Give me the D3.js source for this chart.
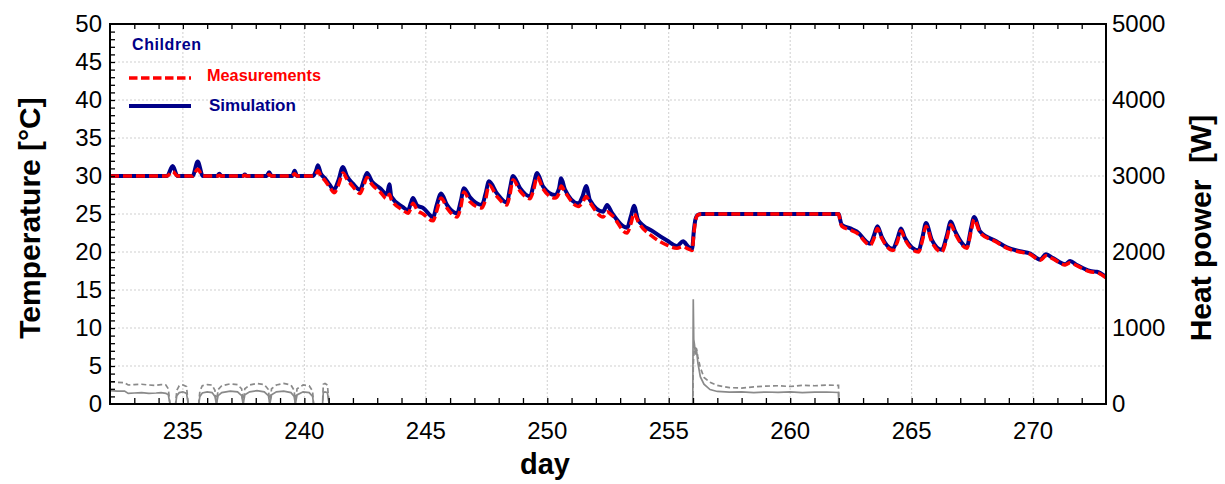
<!DOCTYPE html>
<html>
<head>
<meta charset="utf-8">
<script src="https://cdn.jsdelivr.net/npm/d3@7"></script>
<style>
  body { margin: 0; background: #fff; }
  svg { display: block; }
  text { font-family: "Liberation Sans", Arial, sans-serif; }
</style>
</head>
<body>
<svg id="chart" width="1225" height="484"></svg>
<script>
// Room temperature, "Children" zone: day of year vs. °C
const tempDays = [
  232.00, 234.35, 234.58, 234.78, 235.40, 235.61, 235.82, 236.42, 236.50, 236.58,
  237.47, 237.55, 237.63, 238.45, 238.55, 238.65, 239.50, 239.60, 239.70,
  240.35, 240.47, 240.56, 240.68, 240.85, 241.05, 241.22, 241.40, 241.59, 241.75,
  242.00, 242.29, 242.45, 242.58, 242.78, 243.12, 243.40, 243.50, 243.58, 244.06,
  244.27, 244.38, 244.47, 244.65, 244.89, 245.30, 245.45, 245.63, 245.87, 246.29,
  246.44, 246.57, 246.82, 247.31, 247.46, 247.60, 247.93, 248.34, 248.46, 248.59,
  248.88, 249.29, 249.44, 249.58, 249.83, 250.32, 250.48, 250.57, 250.73, 251.27,
  251.45, 251.60, 251.76, 252.30, 252.46, 252.67, 253.28, 253.45, 253.57, 253.74,
  254.35, 254.93, 255.34, 255.59, 255.80, 255.96, 256.04, 256.10, 256.20, 256.35,
  262.00, 262.06, 262.12, 262.47, 262.74, 263.29, 263.45, 263.59, 263.77, 264.22,
  264.42, 264.56, 264.73, 265.28, 265.45, 265.59, 265.83, 266.24, 266.45, 266.61,
  266.79, 267.27, 267.45, 267.57, 267.82, 268.50, 268.92, 269.46, 269.88, 270.29,
  270.53, 270.82, 271.32, 271.52, 271.80, 272.35, 272.62, 272.96, 273.00
];
const simTemp = [
  30.0, 30.0, 31.3, 30.0, 30.0, 31.9, 30.0, 30.0, 30.3, 30.0,
  30.0, 30.2, 30.0, 30.0, 30.5, 30.0, 30.0, 30.7, 30.0,
  30.0, 30.6, 31.4, 30.3, 29.7, 28.8, 28.2, 29.4, 31.2, 30.0,
  29.0, 28.2, 29.4, 30.4, 29.3, 28.4, 27.6, 28.9, 27.3, 25.9,
  25.5, 26.4, 27.1, 26.1, 25.8, 24.6, 26.2, 27.7, 26.2, 25.1,
  26.7, 28.4, 27.2, 26.2, 27.7, 29.3, 27.7, 26.5, 28.3, 30.0,
  28.4, 27.3, 28.9, 30.4, 28.6, 27.5, 28.3, 29.7, 28.2, 26.4,
  27.3, 28.7, 26.8, 25.3, 26.2, 25.1, 23.2, 24.8, 26.1, 24.2,
  22.7, 21.5, 20.8, 21.4, 20.7, 20.4, 23.0, 24.3, 24.9, 25.0,
  25.0, 24.2, 23.6, 23.1, 22.7, 21.1, 22.2, 23.4, 22.0, 20.4,
  21.8, 23.1, 21.8, 20.2, 22.0, 23.8, 21.6, 20.3, 22.2, 24.0,
  22.7, 20.7, 23.2, 24.6, 22.7, 21.4, 20.6, 20.1, 19.8, 19.0,
  19.7, 19.2, 18.4, 18.8, 18.3, 17.5, 17.4, 16.8, 16.7
];
const measTemp = [
  30.0, 30.0, 30.6, 30.0, 30.0, 30.9, 30.0, 30.0, 30.1, 30.0,
  30.0, 30.1, 30.0, 30.0, 30.2, 30.0, 30.0, 30.3, 30.0,
  30.0, 30.2, 30.7, 30.0, 29.4, 28.5, 27.8, 28.8, 30.4, 29.6,
  28.6, 27.7, 28.8, 29.8, 28.9, 27.9, 27.0, 27.6, 26.9, 25.5,
  25.1, 25.7, 26.4, 25.5, 25.0, 24.1, 25.4, 27.1, 25.8, 24.6,
  25.9, 27.9, 26.6, 25.8, 26.9, 28.8, 27.3, 26.2, 27.5, 29.5,
  28.0, 27.0, 28.2, 29.9, 28.3, 27.1, 27.7, 28.7, 27.9, 26.0,
  26.5, 27.3, 26.5, 24.6, 25.3, 24.8, 22.5, 23.8, 25.1, 24.0,
  22.0, 20.9, 20.5, 20.7, 20.4, 20.2, 22.6, 24.1, 24.9, 25.0,
  25.0, 24.0, 23.4, 22.9, 22.5, 20.9, 21.8, 23.1, 21.8, 20.2,
  21.4, 22.8, 21.6, 20.0, 21.6, 23.4, 21.3, 20.0, 21.8, 23.6,
  22.4, 20.5, 22.8, 24.3, 22.5, 21.3, 20.5, 20.0, 19.7, 18.9,
  19.5, 19.1, 18.3, 18.6, 18.2, 17.4, 17.3, 16.7, 16.6
];

// Heating power in W (null = no heating data)
const powerDays = [
  232.00, 232.30, 232.60, 232.75, 233.00, 233.30, 233.60, 233.90, 234.10, 234.30,
  234.40, 234.47, 234.70, 234.75, 234.85, 235.00, 235.15, 235.22, 235.65, 235.70,
  235.80, 236.00, 236.20, 236.32, 236.38, 236.45, 236.60, 236.95, 237.25, 237.42,
  237.48, 237.55, 237.75, 238.05, 238.35, 238.52, 238.58, 238.65, 238.85, 239.15,
  239.45, 239.58, 239.63, 239.70, 239.95, 240.20, 240.34, 240.38, 240.75, 240.78,
  240.85, 240.95, 241.02, 248.00,
  255.99, 256.01, 256.03, 256.06, 256.10, 256.14, 256.20, 256.30, 256.45, 256.70,
  257.00, 257.50, 258.00, 258.50, 259.00, 259.50, 260.00, 260.50, 261.00, 261.50,
  261.99, 262.00
];
const powerSim = [
  175, 170, 170, 140, 145, 150, 140, 145, 150, 140,
  120, 0, 0, 110, 150, 160, 140, 0, 0, 100,
  145, 160, 150, 100, 0, 110, 150, 170, 160, 110,
  0, 120, 160, 175, 160, 110, 0, 120, 160, 170,
  150, 100, 0, 120, 160, 150, 100, 0, 0, 150,
  160, 150, 0, null,
  0, 1378, 850, 780, 650, 720, 540, 360, 260, 190,
  165, 155, 160, 150, 158, 152, 160, 150, 155, 158,
  152, 0
];
const powerMeas = [
  290, 285, 280, 250, 255, 260, 250, 245, 255, 250,
  200, 0, 0, 180, 240, 250, 230, 0, 0, 170,
  240, 255, 250, 180, 0, 190, 240, 265, 255, 200,
  0, 200, 250, 270, 255, 190, 0, 200, 250, 270,
  250, 180, 0, 200, 250, 240, 170, 0, 0, 260,
  270, 250, 0, null,
  0, 500, 640, 740, 735, 730, 620, 480, 350, 285,
  245, 215, 210, 225, 235, 240, 230, 245, 240, 250,
  245, 0
];

const dayTicks = [235, 240, 245, 250, 255, 260, 265, 270];
const tempTicks = [0, 5, 10, 15, 20, 25, 30, 35, 40, 45, 50];
const powerTicks = [0, 1000, 2000, 3000, 4000, 5000];

const legendTitle = "Children";
const legendItems = ["Measurements", "Simulation"];

const svg = d3.select("#chart");
const m = { left: 110, top: 24, right: 119, bottom: 80 };
const W = 1225 - m.left - m.right;
const H = 484 - m.top - m.bottom;

const x = d3.scaleLinear().domain([232, 273]).range([0, W]);
const yT = d3.scaleLinear().domain([0, 50]).range([H, 0]);
const yP = d3.scaleLinear().domain([0, 5000]).range([H, 0]);

const g = svg.append("g").attr("transform", `translate(${m.left},${m.top})`);

// dotted grid
const grid = g.append("g").attr("stroke", "#cfcfcf").attr("stroke-width", 1).attr("stroke-dasharray", "2,2");
grid.selectAll("line.v").data(dayTicks).join("line")
  .attr("x1", d => x(d)).attr("x2", d => x(d)).attr("y1", 0).attr("y2", H);
grid.selectAll("line.h").data(tempTicks.filter(t => t > 0 && t < 50)).join("line")
  .attr("x1", 0).attr("x2", W).attr("y1", d => yT(d)).attr("y2", d => yT(d));

svg.append("clipPath").attr("id", "plotclip").append("rect")
  .attr("x", 0).attr("y", 0).attr("width", W).attr("height", H);
const plot = g.append("g").attr("clip-path", "url(#plotclip)");

// heating power
const powerData = powerDays.map((d, i) => ({ d, s: powerSim[i], mm: powerMeas[i] }));
const pLineS = d3.line().defined(p => p.s != null).x(p => x(p.d)).y(p => yP(p.s));
const pLineM = d3.line().defined(p => p.mm != null).x(p => x(p.d)).y(p => yP(p.mm));
plot.append("path").datum(powerData).attr("d", pLineM)
  .attr("fill", "none").attr("stroke", "#8a8a8a").attr("stroke-width", 1.7)
  .attr("stroke-dasharray", "5,3");
plot.append("path").datum(powerData).attr("d", pLineS)
  .attr("fill", "none").attr("stroke", "#8a8a8a").attr("stroke-width", 1.7);

// temperatures
const tempData = tempDays.map((d, i) => ({ d, s: simTemp[i], mm: measTemp[i] }));
const tLineS = d3.line().curve(d3.curveMonotoneX).x(p => x(p.d)).y(p => yT(p.s));
const tLineM = d3.line().curve(d3.curveMonotoneX).x(p => x(p.d)).y(p => yT(p.mm));
plot.append("path").datum(tempData).attr("d", tLineS)
  .attr("fill", "none").attr("stroke", "#000088").attr("stroke-width", 4)
  .attr("stroke-linejoin", "round");
plot.append("path").datum(tempData).attr("d", tLineM)
  .attr("fill", "none").attr("stroke", "#ff0000").attr("stroke-width", 3.5)
  .attr("stroke-dasharray", "9,4");

// axes
const fontSize = 24;
const axB = g.append("g").attr("transform", `translate(0,${H})`)
  .call(d3.axisBottom(x).tickValues(d3.range(233, 273, 1)).tickSizeInner(-6).tickSizeOuter(0).tickFormat(""));
const axT = g.append("g")
  .call(d3.axisTop(x).tickValues(d3.range(233, 273, 1)).tickSizeInner(-5).tickSizeOuter(0).tickFormat(""));
const axL = g.append("g")
  .call(d3.axisLeft(yT).tickValues(d3.range(1, 50, 1)).tickSizeInner(-5).tickSizeOuter(0).tickFormat(""));
[axB, axT, axL].forEach(a => {
  a.select(".domain").remove();
  a.selectAll(".tick line").attr("stroke", "#000").attr("stroke-width", 1.3);
});

// tick labels
g.append("g").selectAll("text").data(dayTicks).join("text")
  .attr("x", d => x(d)).attr("y", H + 35).attr("text-anchor", "middle")
  .attr("font-size", fontSize).attr("fill", "#000").text(d => d);
g.append("g").selectAll("text").data(tempTicks).join("text")
  .attr("x", -8).attr("y", d => yT(d)).attr("dy", "0.35em").attr("text-anchor", "end")
  .attr("font-size", fontSize).attr("fill", "#000").text(d => d);
g.append("g").selectAll("text").data(powerTicks).join("text")
  .attr("x", W + 6).attr("y", d => yP(d)).attr("dy", "0.35em").attr("text-anchor", "start")
  .attr("font-size", fontSize).attr("fill", "#000").text(d => d);

// frame
g.append("rect").attr("x", 0).attr("y", 0).attr("width", W).attr("height", H)
  .attr("fill", "none").attr("stroke", "#000").attr("stroke-width", 2);

// axis titles
svg.append("text").attr("transform", `translate(40,${m.top + H / 2 + 4}) rotate(-90)`)
  .attr("text-anchor", "middle").attr("font-size", 30).attr("font-weight", "bold")
  .text("Temperature [°C]");
svg.append("text").attr("transform", `translate(1211,${m.top + H / 2 + 14}) rotate(-90)`)
  .attr("text-anchor", "middle").attr("font-size", 30).attr("font-weight", "bold")
  .attr("xml:space", "preserve").style("white-space", "pre")
  .text("Heat power  [W]");
svg.append("text").attr("x", 545).attr("y", 474).attr("text-anchor", "middle")
  .attr("font-size", 29).attr("font-weight", "bold").text("day");

// legend
const lg = svg.append("g");
lg.append("text").attr("x", 132).attr("y", 50).attr("font-size", 16).attr("font-weight", "bold")
  .attr("fill", "#000088").attr("letter-spacing", 0.6).text(legendTitle);
lg.append("line").attr("x1", 129).attr("x2", 191).attr("y1", 78).attr("y2", 78)
  .attr("stroke", "#ff0000").attr("stroke-width", 3.6).attr("stroke-dasharray", "8.5,3.5");
lg.append("text").attr("x", 207).attr("y", 81).attr("font-size", 16.3).attr("font-weight", "bold")
  .attr("fill", "#ff0000").text(legendItems[0]);
lg.append("line").attr("x1", 129).attr("x2", 191).attr("y1", 106).attr("y2", 106)
  .attr("stroke", "#000088").attr("stroke-width", 3.8);
lg.append("text").attr("x", 209).attr("y", 111).attr("font-size", 17).attr("font-weight", "bold")
  .attr("fill", "#000088").text(legendItems[1]);
</script>
</body>
</html>
